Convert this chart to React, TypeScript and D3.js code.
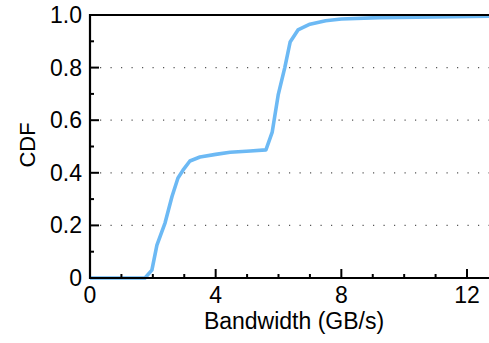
import * as d3 from 'd3'
import { useEffect, useRef } from 'react'

// bandwidth (GB/s) and CDF values
const bandwidth = [0, 1.0, 1.75, 1.97, 2.13, 2.39, 2.61, 2.8, 2.96, 3.18, 3.5, 4.0, 4.46, 5.1, 5.6, 5.8, 5.99, 6.2, 6.37, 6.62, 7.0, 7.5, 8.0, 9.2, 11.0, 12.7]
const cdf = [0, 0, 0, 0.03, 0.125, 0.21, 0.31, 0.38, 0.41, 0.445, 0.46, 0.47, 0.478, 0.483, 0.487, 0.555, 0.696, 0.8, 0.897, 0.943, 0.965, 0.978, 0.985, 0.99, 0.993, 0.995]
const xTicks = [0, 4, 8, 12]
const yTicks = [0, 0.2, 0.4, 0.6, 0.8, 1.0]
const gridTicks = [0.2, 0.4, 0.6, 0.8]

function App() {
  const ref = useRef<SVGSVGElement>(null)

  useEffect(() => {
    const svg = d3.select(ref.current)
    svg.selectAll('*').remove()

    const x = d3.scaleLinear().domain([0, 12.7]).range([90, 489])
    const y = d3.scaleLinear().domain([0, 1]).range([278, 15])
    const font = 'Liberation Sans, Arial, Helvetica, sans-serif'

    // dotted grid
    svg.selectAll('line.grid').data(gridTicks).enter().append('line')
      .attr('x1', 90).attr('x2', 489)
      .attr('y1', d => y(d)).attr('y2', d => y(d))
      .attr('stroke', '#555').attr('stroke-width', 1.2)
      .attr('stroke-dasharray', '1.2,9.3')
      .attr('stroke-dashoffset', -10)

    // curve
    const pts = bandwidth.map((b, i) => [b, cdf[i]] as [number, number])
    svg.append('path')
      .datum(pts)
      .attr('d', d3.line<[number, number]>().x(d => x(d[0])).y(d => y(d[1])))
      .attr('fill', 'none').attr('stroke', '#6cb9f4')
      .attr('stroke-width', 3.6).attr('stroke-linejoin', 'round')

    // frame
    svg.append('line').attr('x1', 89).attr('x2', 489).attr('y1', 15).attr('y2', 15)
      .attr('stroke', '#000').attr('stroke-width', 2.2)
    svg.append('line').attr('x1', 90).attr('x2', 90).attr('y1', 14).attr('y2', 279)
      .attr('stroke', '#000').attr('stroke-width', 2.2)
    svg.append('line').attr('x1', 89).attr('x2', 489).attr('y1', 278).attr('y2', 278)
      .attr('stroke', '#000').attr('stroke-width', 2.2)

    // y ticks (inward)
    const yMinor = d3.range(0.1, 1, 0.2)
    svg.selectAll('line.ymaj').data(yTicks).enter().append('line')
      .attr('x1', 90).attr('x2', 99).attr('y1', d => y(d)).attr('y2', d => y(d))
      .attr('stroke', '#000').attr('stroke-width', 2)
    svg.selectAll('line.ymin').data(yMinor).enter().append('line')
      .attr('x1', 90).attr('x2', 94).attr('y1', d => y(d)).attr('y2', d => y(d))
      .attr('stroke', '#000').attr('stroke-width', 2)

    // x ticks (inward)
    const xMinor = d3.range(1, 13).filter(v => v % 4 !== 0)
    svg.selectAll('line.xmaj').data(xTicks).enter().append('line')
      .attr('x1', d => x(d)).attr('x2', d => x(d)).attr('y1', 278).attr('y2', 269)
      .attr('stroke', '#000').attr('stroke-width', 2)
    svg.selectAll('line.xmin').data(xMinor).enter().append('line')
      .attr('x1', d => x(d)).attr('x2', d => x(d)).attr('y1', 278).attr('y2', 274)
      .attr('stroke', '#000').attr('stroke-width', 2)

    // tick labels
    svg.selectAll('text.yl').data(yTicks).enter().append('text')
      .attr('x', 82).attr('y', d => y(d) + 8)
      .attr('text-anchor', 'end').attr('font-family', font).attr('font-size', 23)
      .text(d => (d === 0 ? '0' : d.toFixed(1)))
    svg.selectAll('text.xl').data(xTicks).enter().append('text')
      .attr('x', d => x(d)).attr('y', 303)
      .attr('text-anchor', 'middle').attr('font-family', font).attr('font-size', 23)
      .text(d => String(d))

    // axis titles
    svg.append('text').attr('x', 294).attr('y', 329)
      .attr('text-anchor', 'middle').attr('font-family', font).attr('font-size', 23)
      .text('Bandwidth (GB/s)')
    svg.append('text')
      .attr('transform', 'translate(35,145) rotate(-90)')
      .attr('text-anchor', 'middle').attr('font-family', font).attr('font-size', 22)
      .text('CDF')
  }, [])

  return (
    <svg ref={ref} width={489} height={343}
      style={{ position: 'absolute', left: 0, top: 0, background: '#fff' }} />
  )
}

export default App
